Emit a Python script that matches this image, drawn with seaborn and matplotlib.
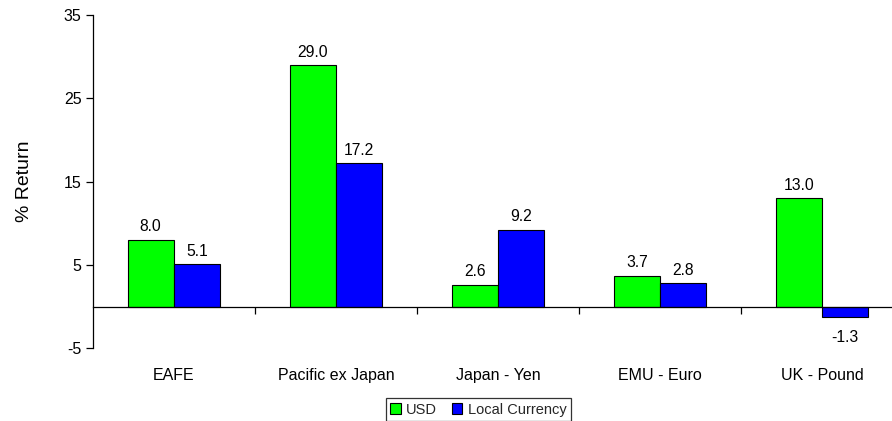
import matplotlib
matplotlib.use("Agg")
import matplotlib.pyplot as plt
import seaborn as sns
import pandas as pd

categories = ["EAFE", "Pacific ex Japan", "Japan - Yen", "EMU - Euro", "UK - Pound"]
usd = [8.0, 29.0, 2.6, 3.7, 13.0]
local_currency = [5.1, 17.2, 9.2, 2.8, -1.3]
series_names = ["USD", "Local Currency"]
y_ticks = [-5, 5, 15, 25, 35]

df = pd.DataFrame({
    "Region": categories * 2,
    "Series": [series_names[0]] * len(categories) + [series_names[1]] * len(categories),
    "Return": usd + local_currency,
})

sns.set_theme(style="white")
plt.rcParams["font.family"] = ["Liberation Sans", "DejaVu Sans"]
plt.rcParams["axes.unicode_minus"] = False

fig = plt.figure(figsize=(8.92, 4.21), dpi=100)
ax = fig.add_axes([0.104, 0.173, 0.896, 0.791])

sns.barplot(
    data=df, x="Region", y="Return", hue="Series",
    order=categories, hue_order=series_names,
    palette=["#00FF00", "#0000FF"], width=0.57, dodge=True,
    edgecolor="black", linewidth=0.8, saturation=1, ax=ax,
)

handles = ax.get_legend().legend_handles
ax.get_legend().remove()

# value labels: above positive bars, below negative bars
for cont in ax.containers:
    vals = cont.datavalues
    ax.bar_label(cont, labels=[f"{v:.1f}" if v >= 0 else "" for v in vals],
                 padding=4, fontsize=11.3, color="black")
    ax.bar_label(cont, labels=[f"{v:.1f}" if v < 0 else "" for v in vals],
                 padding=9, fontsize=11.3, color="black")

ax.set_ylim(-5, 35)
ax.set_yticks(y_ticks)
ax.set_xlim(-0.5, len(categories) - 0.5 - 0.068)

for side in ("top", "right"):
    ax.spines[side].set_visible(False)
ax.spines["left"].set_color("black")
ax.spines["left"].set_linewidth(0.9)
ax.spines["bottom"].set_position(("data", 0))
ax.spines["bottom"].set_color("black")
ax.spines["bottom"].set_linewidth(0.9)

# category labels sit below the plot; small ticks mark group boundaries on the zero line
ax.set_xticks(range(len(categories)))
ax.set_xticklabels(categories)
ax.set_xticks([i + 0.5 for i in range(len(categories) - 1)], minor=True)
ax.tick_params(axis="x", which="major", length=0, pad=44, labelsize=11.5, colors="black")
ax.tick_params(axis="x", which="minor", length=5, width=0.9, direction="out",
               color="black", bottom=True)
ax.tick_params(axis="y", length=5, width=0.9, direction="out", left=True,
               pad=3, labelsize=11.5, colors="black")

ax.set_xlabel("")
ax.set_ylabel("% Return", fontsize=14, labelpad=22, color="black")
ax.grid(False)

leg = fig.legend(
    handles, series_names, loc="upper center", bbox_to_anchor=(0.536, 0.054),
    ncol=2, fontsize=10.5, frameon=True, fancybox=False, edgecolor="black",
    handlelength=0.75, handleheight=0.75, handletextpad=0.35, columnspacing=1.0,
    borderpad=0.3, borderaxespad=0,
)
leg.get_frame().set_linewidth(0.9)

fig.savefig("out.png", dpi=100, facecolor="white")
